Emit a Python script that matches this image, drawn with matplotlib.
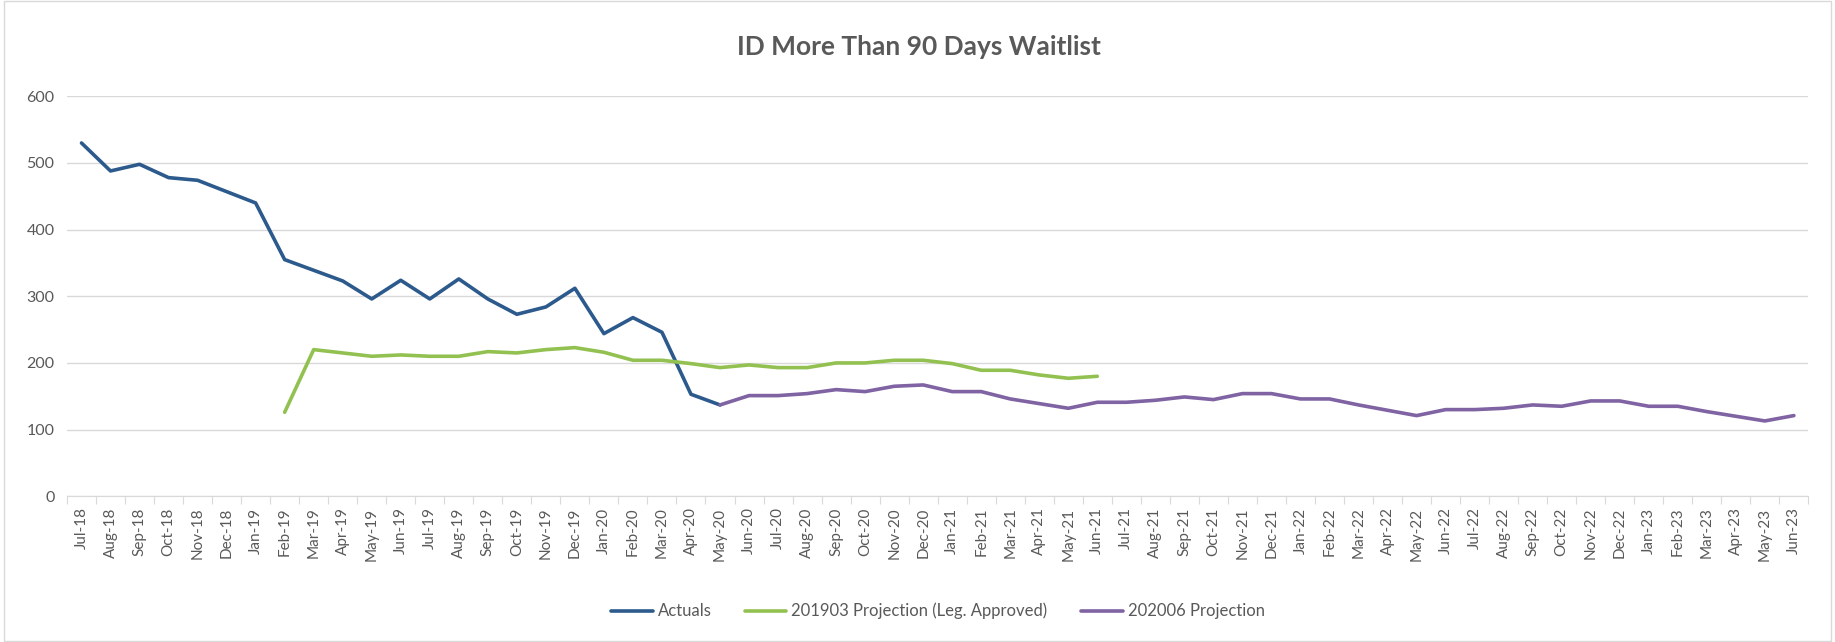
import matplotlib
matplotlib.use("Agg")
import matplotlib.pyplot as plt
from matplotlib.patches import Rectangle

# month labels Jul-18 .. Jun-23
months = ['Jul', 'Aug', 'Sep', 'Oct', 'Nov', 'Dec', 'Jan', 'Feb', 'Mar', 'Apr', 'May', 'Jun']
labels = []
for i in range(60):
    m = months[i % 12]
    yr = 18 + (i + 6) // 12
    labels.append('%s-%d' % (m, yr))

# Actuals: Jul-18 .. May-20
actuals = [530, 488, 498, 478, 474, 457, 440, 355, 339, 323, 296, 324,
           296, 326, 296, 273, 284, 312, 244, 268, 246, 153, 137]

# 201903 projection: Feb-19 .. Jun-21
proj_1903 = [126, 220, 215, 210, 212, 210, 210, 217, 215, 220, 223, 216,
             204, 204, 199, 193, 197, 193, 193, 200, 200, 204, 204, 199,
             189, 189, 182, 177, 180]

# 202006 projection: May-20 .. Jun-23
proj_2006 = [137, 151, 151, 154, 160, 157, 165, 167, 157, 157, 146, 139,
             132, 141, 141, 144, 149, 145, 154, 154, 146, 146, 137, 129,
             121, 130, 130, 132, 137, 135, 143, 143, 135, 135, 127, 120,
             113, 121]

x_act = list(range(0, len(actuals)))
x_1903 = list(range(7, 7 + len(proj_1903)))
x_2006 = list(range(22, 22 + len(proj_2006)))

plt.rcParams['font.family'] = ['Lato', 'DejaVu Sans']
grey = '#595959'

fig = plt.figure(figsize=(18.35, 6.42), dpi=100)
ax = fig.add_axes([0.0365, 0.227, 0.949, 0.623])

ax.plot(x_act, actuals, color='#2C5A8C', lw=2.6, label='Actuals', solid_capstyle='round')
ax.plot(x_1903, proj_1903, color='#93C151', lw=2.6, label='201903 Projection (Leg. Approved)', solid_capstyle='round')
ax.plot(x_2006, proj_2006, color='#7F63A3', lw=2.6, label='202006 Projection', solid_capstyle='round')

ax.set_xlim(-0.5, 59.5)
ax.set_ylim(0, 600)
ax.set_yticks(range(0, 601, 100))
ax.yaxis.grid(True, color='#D9D9D9', lw=1)
ax.set_axisbelow(True)

ax.set_xticks([i - 0.5 for i in range(61)])
ax.set_xticklabels([])
ax.set_xticks(range(60), minor=True)
ax.set_xticklabels(labels, minor=True, rotation=90)
ax.tick_params(axis='x', which='major', length=6, color='#D9D9D9', direction='out')
ax.tick_params(axis='x', which='minor', length=0, labelsize=11, labelcolor=grey, pad=8)
ax.tick_params(axis='y', length=0, labelsize=11.5, labelcolor=grey, pad=9)

for s in ['top', 'right', 'left']:
    ax.spines[s].set_visible(False)
ax.spines['bottom'].set_color('#D9D9D9')

fig.text(0.501, 0.927, 'ID More Than 90 Days Waitlist', ha='center', va='center',
         fontsize=19, fontweight='bold', color=grey)

ax.legend(loc='center', bbox_to_anchor=(0.5, -0.287), ncol=3, frameon=False,
          fontsize=12, labelcolor=grey, handlelength=2.5, handletextpad=0.3,
          columnspacing=2.0)

fig.patches.append(Rectangle((0.002, 0.002), 0.996, 0.996, transform=fig.transFigure,
                             fill=False, edgecolor='#D9D9D9', lw=1))

fig.savefig('out.png', dpi=100)
